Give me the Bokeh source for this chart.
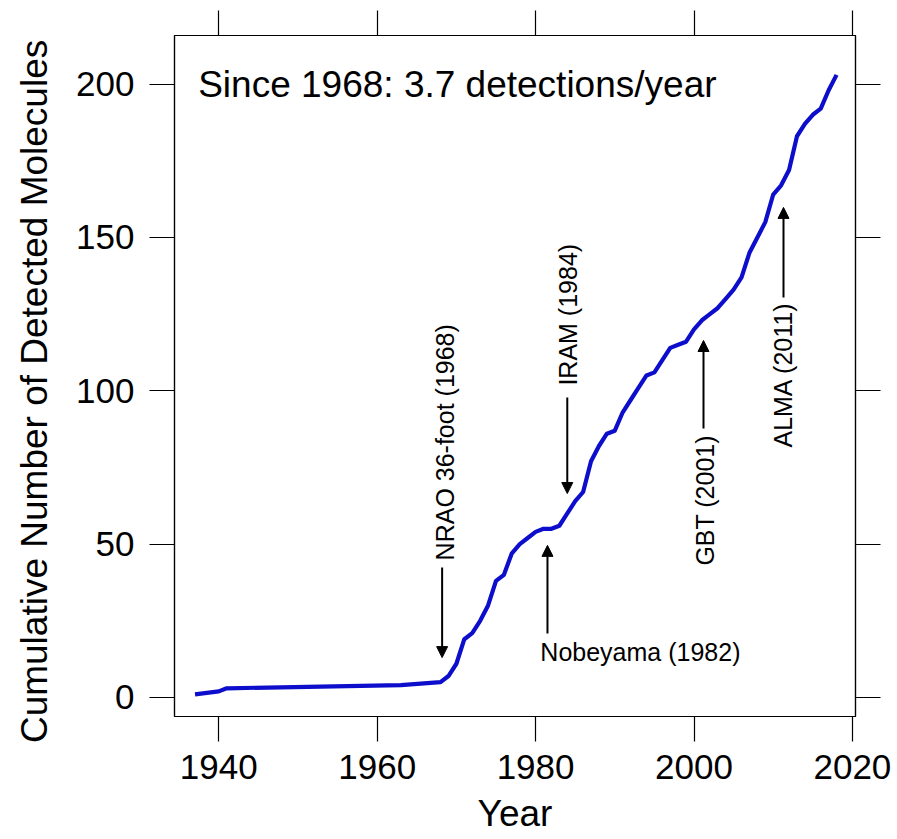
from bokeh.plotting import figure
from bokeh.models import LinearAxis, Arrow, NormalHead, FixedTicker, Label, ColumnDataSource
from bokeh.embed import file_html
from bokeh.resources import INLINE
import math

# ---- data ----
years = [1937, 1940, 1941, 1963, 1968, 1969, 1970, 1971, 1972, 1973, 1974, 1975,
         1976, 1977, 1978, 1979, 1980, 1981, 1982, 1983, 1984, 1985, 1986, 1987,
         1988, 1989, 1990, 1991, 1992, 1993, 1994, 1995, 1996, 1997, 1998, 1999,
         2000, 2001, 2002, 2003, 2004, 2005, 2006, 2007, 2008, 2009, 2010, 2011,
         2012, 2013, 2014, 2015, 2016, 2017, 2018]
counts = [1, 2, 3, 4, 5, 7, 11, 19, 21, 25, 30, 38,
          40, 47, 50, 52, 54, 55, 55, 56, 60, 64, 67, 77,
          82, 86, 87, 93, 97, 101, 105, 106, 110, 114, 115, 116,
          120, 123, 125, 127, 130, 133, 137, 145, 150, 155, 164, 167,
          172, 183, 187, 190, 192, 198, 203]

x_ticks = [1940, 1960, 1980, 2000, 2020]
y_ticks = [0, 50, 100, 150, 200]

# telescope annotations: label, arrow x, arrow start y, arrow end y
tel_labels = ["NRAO 36-foot (1968)", "Nobeyama (1982)", "IRAM (1984)", "GBT (2001)", "ALMA (2011)"]
arrow_x = [1968.2, 1981.5, 1984.0, 2001.2, 2011.3]
arrow_y0 = [42.4, 20.9, 97.8, 87.7, 130.4]
arrow_y1 = [13.0, 49.6, 66.5, 116.4, 159.8]
text_x = [1968.6, 1980.6, 1984.1, 2001.4, 2011.2]
text_y = [44.7, 14.7, 101.7, 43.0, 81.5]
text_rot = [True, False, True, True, True]

title_text = "Since 1968: 3.7 detections/year"
x_title = "Year"
y_title = "Cumulative Number of Detected Molecules"

FONT = "Liberation Sans"

p = figure(width=896, height=838, x_range=(1934.41, 2020.39), y_range=(-6.2, 215.85),
           output_backend="svg", toolbar_location=None,
           min_border_left=174, min_border_right=41, min_border_top=35, min_border_bottom=122,
           x_axis_location=None, y_axis_location=None)
p.grid.visible = False
p.outline_line_color = "black"
p.outline_line_width = 1.2
p.background_fill_color = "white"
p.border_fill_color = "white"

def style_axis(ax, ticks, labels=True):
    ax.ticker = FixedTicker(ticks=ticks)
    ax.major_tick_out = 25
    ax.major_tick_in = 0
    ax.minor_tick_out = 0
    ax.minor_tick_in = 0
    ax.major_tick_line_color = "black"
    ax.major_tick_line_width = 1.2
    ax.axis_line_color = "black"
    ax.axis_line_width = 1.2
    ax.major_label_text_font = FONT
    ax.major_label_text_color = "black"
    if labels:
        ax.major_label_text_font_size = "35px"
    else:
        ax.major_label_text_font_size = "1px"
        ax.major_label_overrides = {t: "" for t in ticks}
        ax.major_label_standoff = 0

xb = LinearAxis(axis_label=x_title)
style_axis(xb, x_ticks)
xb.major_label_standoff = 13
xb.axis_label_text_font = FONT
xb.axis_label_text_font_size = "37px"
xb.axis_label_text_font_style = "normal"
xb.axis_label_standoff = 11
xb.axis_label_text_color = "black"
p.add_layout(xb, "below")

yl = LinearAxis(axis_label=y_title + "\u00a0\u00a0\u00a0")
style_axis(yl, y_ticks)
yl.major_label_standoff = 15
yl.axis_label_text_font = FONT
yl.axis_label_text_font_size = "37px"
yl.axis_label_text_font_style = "normal"
yl.axis_label_standoff = 18
yl.axis_label_text_color = "black"
p.add_layout(yl, "left")

xt = LinearAxis()
style_axis(xt, x_ticks, labels=False)
p.add_layout(xt, "above")

yr = LinearAxis()
style_axis(yr, y_ticks, labels=False)
p.add_layout(yr, "right")

src = ColumnDataSource(dict(year=years, count=counts))
p.line("year", "count", source=src, line_color="#0d0dcc", line_width=4.2, line_join="round")

for lab, ax_, y0, y1, tx, ty, rot in zip(tel_labels, arrow_x, arrow_y0, arrow_y1, text_x, text_y, text_rot):
    p.add_layout(Arrow(end=NormalHead(size=11, fill_color="black", line_color="black", line_width=1),
                       x_start=ax_, y_start=y0, x_end=ax_, y_end=y1,
                       line_color="black", line_width=2))
    p.add_layout(Label(x=tx, y=ty, text=lab, angle=(math.pi / 2 if rot else 0),
                       text_align="left", text_baseline="middle",
                       text_font=FONT, text_font_size="25px", text_color="black"))

p.add_layout(Label(x=1937.4, y=199.9, text=title_text, text_align="left", text_baseline="middle",
                   text_font=FONT, text_font_size="37px", text_color="black"))

open("out.html", "w").write(file_html(p, INLINE))
